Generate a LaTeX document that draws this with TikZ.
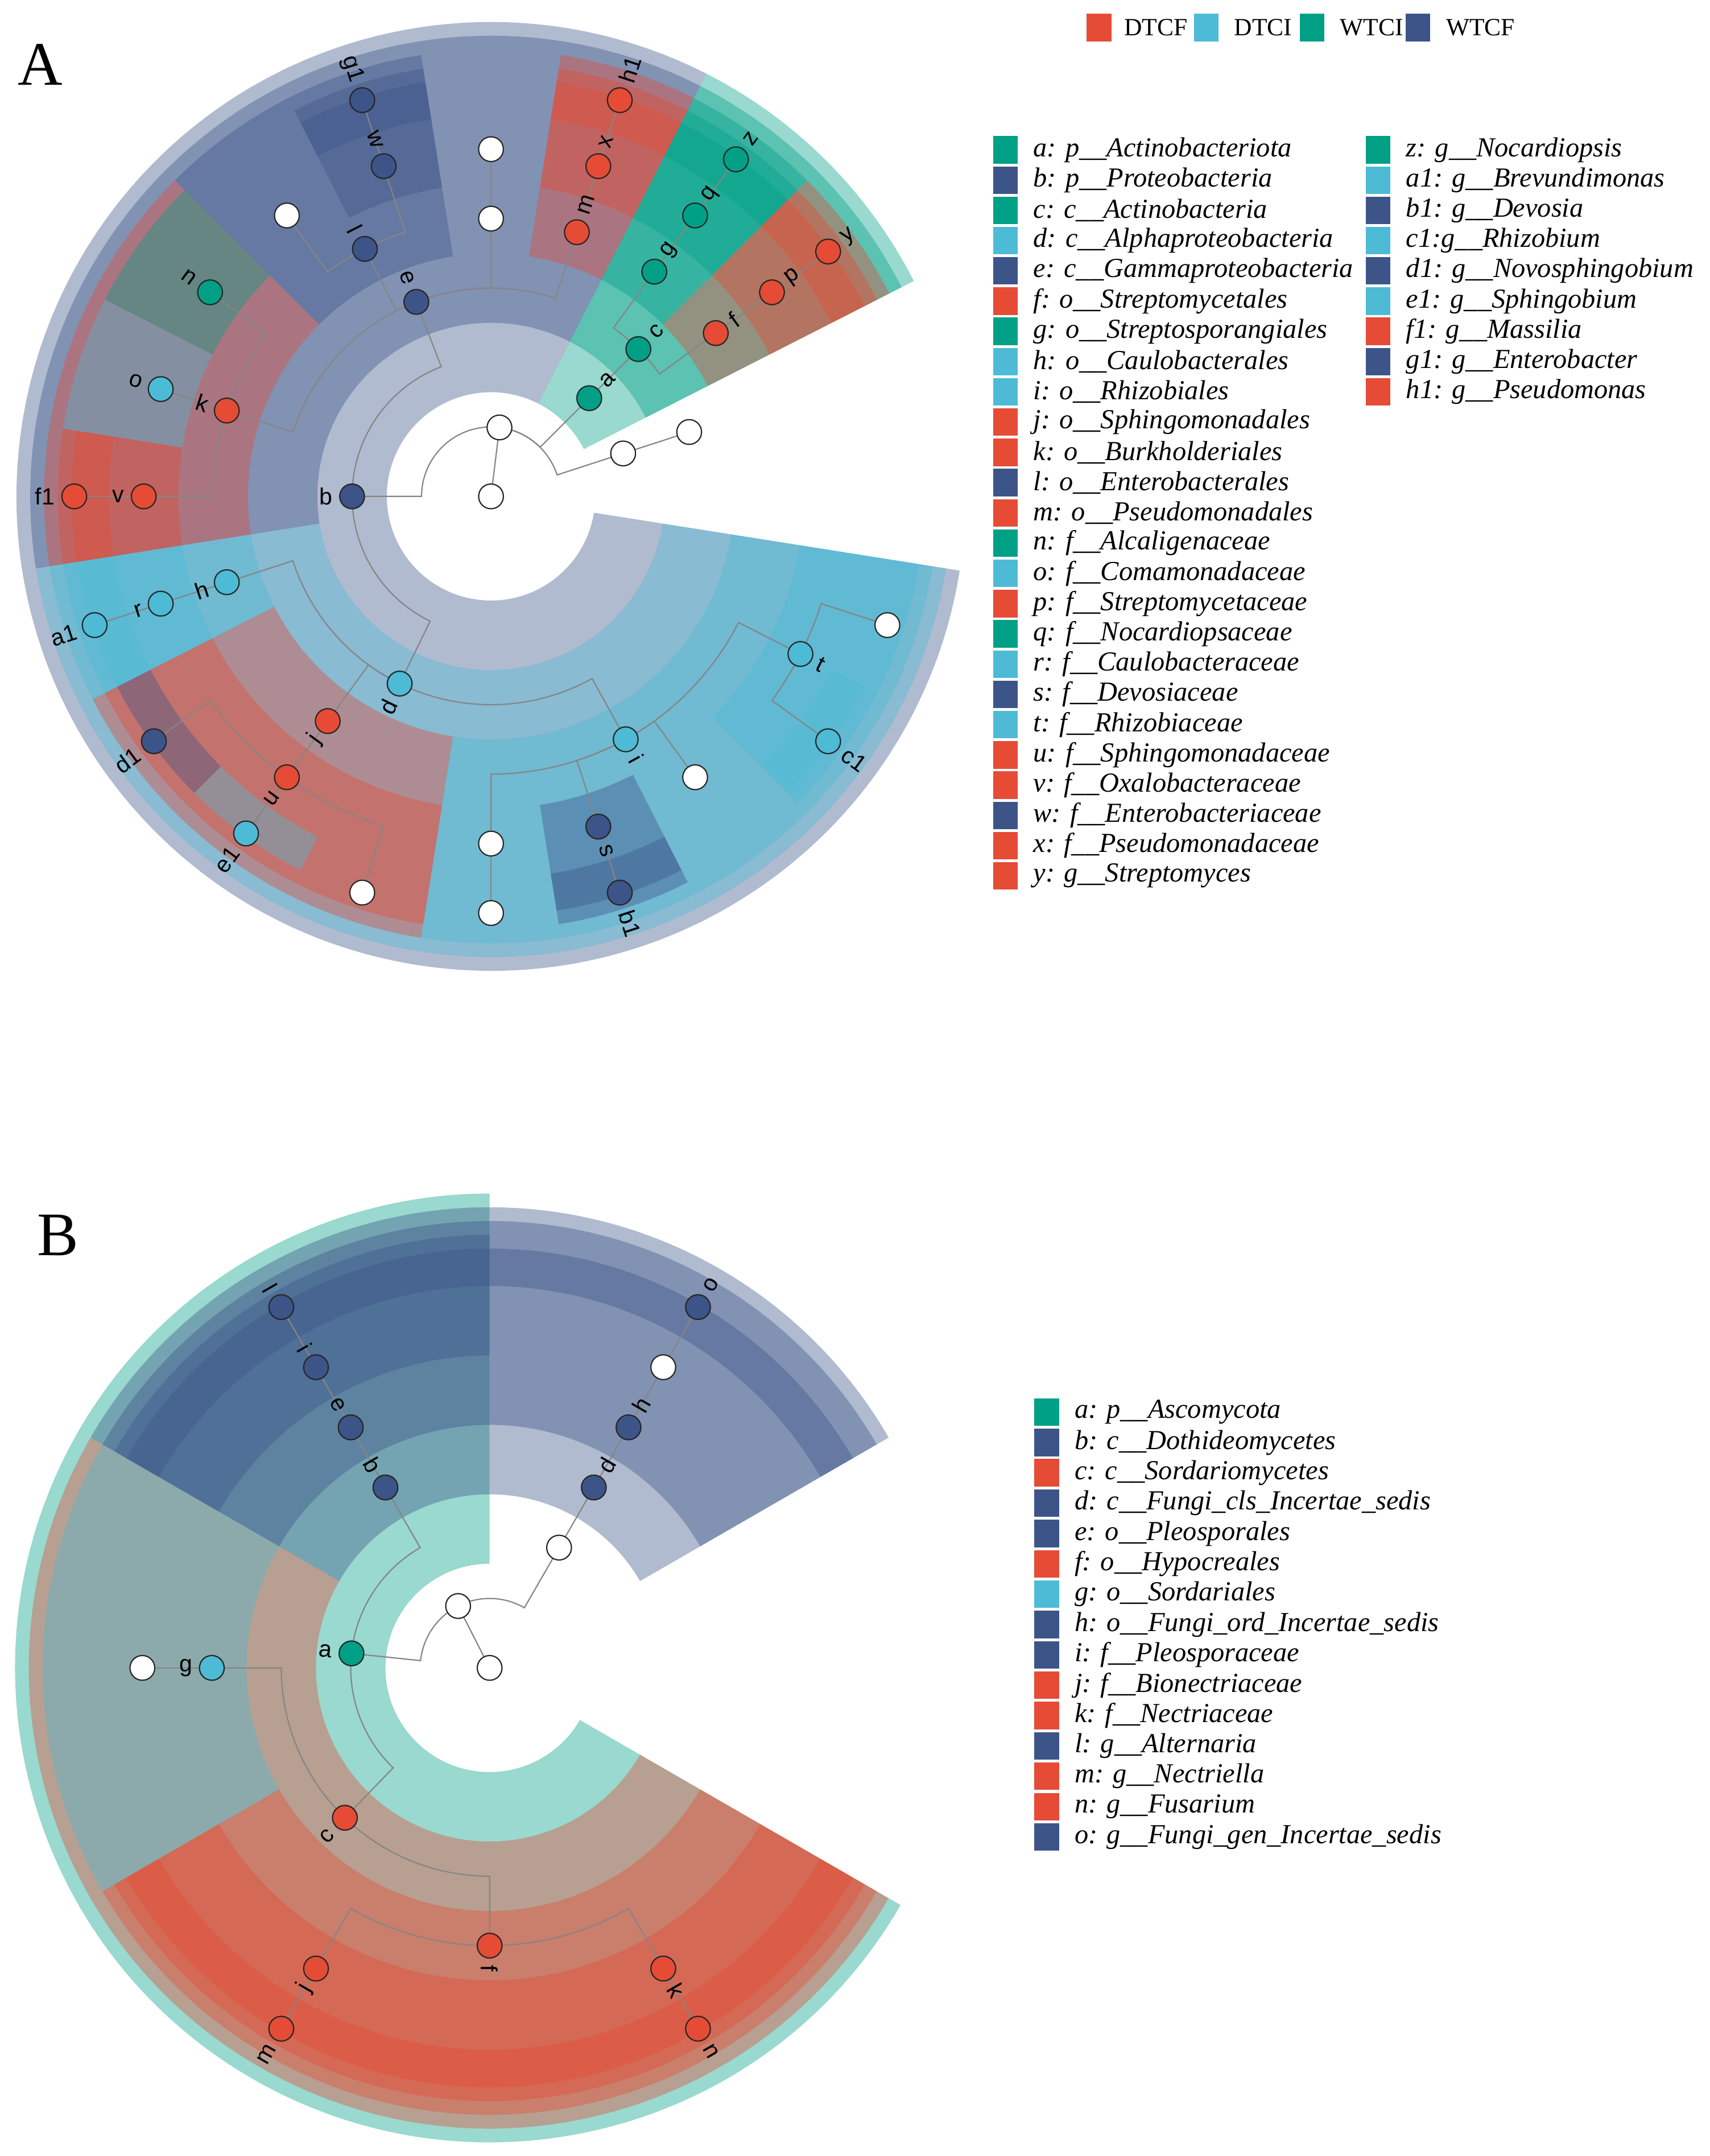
\documentclass[tikz,border=0pt]{standalone}
\usepackage{fontspec}
\setmainfont{Liberation Serif}
\newfontfamily\taxfont{Liberation Sans}
\usetikzlibrary{positioning}

\definecolor{dtcf}{HTML}{E64B35}
\definecolor{dtci}{HTML}{4DBBD5}
\definecolor{wtci}{HTML}{00A087}
\definecolor{wtcf}{HTML}{3C5488}
\definecolor{branchgray}{HTML}{858585}

\pgfdeclarelayer{shade}
\pgfdeclarelayer{tree}
\pgfsetlayers{shade,tree,main}

\tikzset{
	taxdot/.style={circle, draw=black!85, line width=0.9pt, minimum size=18pt, inner sep=0pt},
	branch/.style={draw=branchgray, line width=0.9pt},
	taxlabel/.style={font=\taxfont\fontsize{17}{17}\selectfont, inner sep=0pt},
	keybox/.style={minimum width=18pt, minimum height=20pt, inner sep=0pt},
	keytext/.style={font=\itshape\fontsize{20}{22}\selectfont, inner sep=0pt},
	grouptext/.style={font=\fontsize{18}{18}\selectfont, inner sep=0pt},
	paneltag/.style={font=\fontsize{45}{45}\selectfont, inner sep=0pt, anchor=base west}
}

% level radius: 50.5*(level+1), level 0 = kingdom
\newcommand{\taxon}[5]{%
	\pgfmathsetmacro{\taxr}{50.5*(#3+1)}%
	\node[taxdot, fill=#4] (#1) at (#2:\taxr) {};%
	\ifx\relax#5\relax\else
		\pgfmathsetmacro{\labr}{\taxr+14}%
		\pgfmathsetmacro{\labc}{cos(#2)}%
		\ifdim\labc pt<-0.01pt
			\pgfmathsetmacro{\labrot}{#2-180}%
			\node[taxlabel, anchor=east, rotate=\labrot] (#1-lbl) at (#2:\labr) {#5};%
		\else
			\node[taxlabel, anchor=west, rotate=#2] (#1-lbl) at (#2:\labr) {#5};%
		\fi
	\fi
}
\newcommand{\taxbranch}[5]{%
	\pgfmathsetmacro{\brr}{50.5*(#5+1)}%
	\draw[branch] (#1.center) arc[start angle=#3, end angle=#4, radius=\brr] -- (#2.center);%
}
\newcommand{\clade}[4]{%
	\pgfmathsetmacro{\cin}{50.5*#2+25.25}%
	\pgfmathsetmacro{\cout}{345-10*(#2-1)}%
	\fill[#1, fill opacity=0.4] (#3:\cin) arc[start angle=#3, end angle=#4, radius=\cin]
		-- (#4:\cout) arc[start angle=#4, end angle=#3, radius=\cout] -- cycle;%
}
\newcommand{\keyrow}[5]{%
	\node[keybox, fill=#2] (#1) at (#3,#4) {};%
	\node[keytext, right=11pt of #1] (#1-txt) {#5};%
}

\begin{document}
\begin{tikzpicture}[x=1pt, y=1pt]
	\useasboundingbox (0,0) rectangle (1243,-1568);

	% group key
	\node[keybox, fill=dtcf] (key-dtcf) at (799,-20) {};
	\node[grouptext, right=9pt of key-dtcf] (key-dtcf-txt) {DTCF};
	\node[keybox, fill=dtci] (key-dtci) at (877,-20) {};
	\node[grouptext, right=11pt of key-dtci] (key-dtci-txt) {DTCI};
	\node[keybox, fill=wtci] (key-wtci) at (954,-20) {};
	\node[grouptext, right=11pt of key-wtci] (key-wtci-txt) {WTCI};
	\node[keybox, fill=wtcf] (key-wtcf) at (1031,-20) {};
	\node[grouptext, right=11pt of key-wtcf] (key-wtcf-txt) {WTCF};

	% Panel A
	\node[paneltag] (tagA) at (13,-62) {A};
	\begin{scope}[shift={(357,-361)}]
		% clades
		\begin{pgfonlayer}{shade}
			\clade{wtci}{1}{27}{63}
			\clade{wtcf}{1}{63}{351}
			\clade{wtci}{2}{27}{63}
			\clade{dtci}{2}{189}{351}
			\clade{wtcf}{2}{63}{189}
			\clade{dtcf}{3}{27}{45}
			\clade{wtci}{3}{45}{63}
			\clade{dtci}{3}{189}{207}
			\clade{dtci}{3}{261}{351}
			\clade{dtcf}{3}{207}{261}
			\clade{dtcf}{3}{135}{189}
			\clade{wtcf}{3}{99}{135}
			\clade{dtcf}{3}{63}{81}
			\clade{wtci}{4}{135}{153}
			\clade{dtci}{4}{153}{171}
			\clade{dtcf}{4}{27}{45}
			\clade{wtci}{4}{45}{63}
			\clade{dtci}{4}{189}{207}
			\clade{wtcf}{4}{279}{297}
			\clade{dtci}{4}{315}{351}
			\clade{dtcf}{4}{207}{261}
			\clade{dtcf}{4}{171}{189}
			\clade{wtcf}{4}{99}{117}
			\clade{dtcf}{4}{63}{81}
			\clade{dtcf}{5}{27}{45}
			\clade{wtci}{5}{45}{63}
			\clade{dtci}{5}{189}{207}
			\clade{wtcf}{5}{279}{297}
			\clade{dtci}{5}{315}{333}
			\clade{wtcf}{5}{207}{225}
			\clade{dtci}{5}{225}{243}
			\clade{dtcf}{5}{171}{189}
			\clade{wtcf}{5}{99}{117}
			\clade{dtcf}{5}{63}{81}
		\end{pgfonlayer}

		% taxa
		\taxon{A-root}{0}{-1}{white}{}
		\taxon{A-king}{83}{0}{white}{}
		\taxon{A-w1}{18}{1}{white}{}
		\taxon{A-a}{45}{1}{wtci}{a}
		\taxon{A-b}{180}{1}{wtcf}{b}
		\taxon{A-w2}{18}{2}{white}{}
		\taxon{A-c}{45}{2}{wtci}{c}
		\taxon{A-d}{244}{2}{dtci}{d}
		\taxon{A-e}{111}{2}{wtcf}{e}
		\taxon{A-f}{36}{3}{dtcf}{f}
		\taxon{A-g}{54}{3}{wtci}{g}
		\taxon{A-h}{198}{3}{dtci}{h}
		\taxon{A-i}{299}{3}{dtci}{i}
		\taxon{A-j}{234}{3}{dtcf}{j}
		\taxon{A-k}{162}{3}{dtcf}{k}
		\taxon{A-l}{117}{3}{wtcf}{l}
		\taxon{A-m}{72}{3}{dtcf}{m}
		\taxon{A-w3}{90}{3}{white}{}
		\taxon{A-n}{144}{4}{wtci}{n}
		\taxon{A-o}{162}{4}{dtci}{o}
		\taxon{A-p}{36}{4}{dtcf}{p}
		\taxon{A-q}{54}{4}{wtci}{q}
		\taxon{A-r}{198}{4}{dtci}{r}
		\taxon{A-s}{288}{4}{wtcf}{s}
		\taxon{A-t}{333}{4}{dtci}{t}
		\taxon{A-u}{234}{4}{dtcf}{u}
		\taxon{A-v}{180}{4}{dtcf}{v}
		\taxon{A-w}{108}{4}{wtcf}{w}
		\taxon{A-x}{72}{4}{dtcf}{x}
		\taxon{A-w4}{90}{4}{white}{}
		\taxon{A-w5}{126}{4}{white}{}
		\taxon{A-w7}{270}{4}{white}{}
		\taxon{A-w9}{306}{4}{white}{}
		\taxon{A-y}{36}{5}{dtcf}{y}
		\taxon{A-z}{54}{5}{wtci}{z}
		\taxon{A-a1}{198}{5}{dtci}{a1}
		\taxon{A-b1}{288}{5}{wtcf}{b1}
		\taxon{A-c1}{324}{5}{dtci}{c1}
		\taxon{A-d1}{216}{5}{wtcf}{d1}
		\taxon{A-e1}{234}{5}{dtci}{e1}
		\taxon{A-f1}{180}{5}{dtcf}{f1}
		\taxon{A-g1}{108}{5}{wtcf}{g1}
		\taxon{A-h1}{72}{5}{dtcf}{h1}
		\taxon{A-w6}{252}{5}{white}{}
		\taxon{A-w8}{270}{5}{white}{}
		\taxon{A-w10}{342}{5}{white}{}

		% branches
		\begin{pgfonlayer}{tree}
			\draw[branch] (A-root.center) -- (A-king.center);
			\taxbranch{A-king}{A-w1}{83}{18}{0}
			\taxbranch{A-king}{A-a}{83}{45}{0}
			\taxbranch{A-king}{A-b}{83}{180}{0}
			\taxbranch{A-w1}{A-w2}{18}{18}{1}
			\taxbranch{A-a}{A-c}{45}{45}{1}
			\taxbranch{A-c}{A-f}{45}{36}{2}
			\taxbranch{A-c}{A-g}{45}{54}{2}
			\taxbranch{A-f}{A-p}{36}{36}{3}
			\taxbranch{A-p}{A-y}{36}{36}{4}
			\taxbranch{A-g}{A-q}{54}{54}{3}
			\taxbranch{A-q}{A-z}{54}{54}{4}
			\taxbranch{A-b}{A-e}{180}{111}{1}
			\taxbranch{A-b}{A-d}{180}{244}{1}
			\taxbranch{A-e}{A-m}{111}{72}{2}
			\taxbranch{A-e}{A-w3}{111}{90}{2}
			\taxbranch{A-e}{A-l}{111}{117}{2}
			\taxbranch{A-e}{A-k}{111}{162}{2}
			\taxbranch{A-m}{A-x}{72}{72}{3}
			\taxbranch{A-x}{A-h1}{72}{72}{4}
			\taxbranch{A-w3}{A-w4}{90}{90}{3}
			\taxbranch{A-l}{A-w}{117}{108}{3}
			\taxbranch{A-l}{A-w5}{117}{126}{3}
			\taxbranch{A-w}{A-g1}{108}{108}{4}
			\taxbranch{A-k}{A-n}{162}{144}{3}
			\taxbranch{A-k}{A-o}{162}{162}{3}
			\taxbranch{A-k}{A-v}{162}{180}{3}
			\taxbranch{A-v}{A-f1}{180}{180}{4}
			\taxbranch{A-d}{A-h}{244}{198}{2}
			\taxbranch{A-d}{A-j}{244}{234}{2}
			\taxbranch{A-d}{A-i}{244}{299}{2}
			\taxbranch{A-h}{A-r}{198}{198}{3}
			\taxbranch{A-r}{A-a1}{198}{198}{4}
			\taxbranch{A-j}{A-u}{234}{234}{3}
			\taxbranch{A-u}{A-d1}{234}{216}{4}
			\taxbranch{A-u}{A-e1}{234}{234}{4}
			\taxbranch{A-u}{A-w6}{234}{252}{4}
			\taxbranch{A-i}{A-w7}{299}{270}{3}
			\taxbranch{A-i}{A-s}{299}{288}{3}
			\taxbranch{A-i}{A-w9}{299}{306}{3}
			\taxbranch{A-i}{A-t}{299}{333}{3}
			\taxbranch{A-w7}{A-w8}{270}{270}{4}
			\taxbranch{A-s}{A-b1}{288}{288}{4}
			\taxbranch{A-t}{A-c1}{333}{324}{4}
			\taxbranch{A-t}{A-w10}{333}{342}{4}
		\end{pgfonlayer}
	\end{scope}

	% key A
	\keyrow{keyA-a}{wtci}{731}{-109}{a: p\_\_Actinobacteriota}
	\keyrow{keyA-b}{wtcf}{731}{-131}{b: p\_\_Proteobacteria}
	\keyrow{keyA-c}{wtci}{731}{-153}{c: c\_\_Actinobacteria}
	\keyrow{keyA-d}{dtci}{731}{-175}{d: c\_\_Alphaproteobacteria}
	\keyrow{keyA-e}{wtcf}{731}{-197}{e: c\_\_Gammaproteobacteria}
	\keyrow{keyA-f}{dtcf}{731}{-219}{f: o\_\_Streptomycetales}
	\keyrow{keyA-g}{wtci}{731}{-241}{g: o\_\_Streptosporangiales}
	\keyrow{keyA-h}{dtci}{731}{-263}{h: o\_\_Caulobacterales}
	\keyrow{keyA-i}{dtci}{731}{-285}{i: o\_\_Rhizobiales}
	\keyrow{keyA-j}{dtcf}{731}{-307}{j: o\_\_Sphingomonadales}
	\keyrow{keyA-k}{dtcf}{731}{-329}{k: o\_\_Burkholderiales}
	\keyrow{keyA-l}{wtcf}{731}{-351}{l: o\_\_Enterobacterales}
	\keyrow{keyA-m}{dtcf}{731}{-373}{m: o\_\_Pseudomonadales}
	\keyrow{keyA-n}{wtci}{731}{-395}{n: f\_\_Alcaligenaceae}
	\keyrow{keyA-o}{dtci}{731}{-417}{o: f\_\_Comamonadaceae}
	\keyrow{keyA-p}{dtcf}{731}{-439}{p: f\_\_Streptomycetaceae}
	\keyrow{keyA-q}{wtci}{731}{-461}{q: f\_\_Nocardiopsaceae}
	\keyrow{keyA-r}{dtci}{731}{-483}{r: f\_\_Caulobacteraceae}
	\keyrow{keyA-s}{wtcf}{731}{-505}{s: f\_\_Devosiaceae}
	\keyrow{keyA-t}{dtci}{731}{-527}{t: f\_\_Rhizobiaceae}
	\keyrow{keyA-u}{dtcf}{731}{-549}{u: f\_\_Sphingomonadaceae}
	\keyrow{keyA-v}{dtcf}{731}{-571}{v: f\_\_Oxalobacteraceae}
	\keyrow{keyA-w}{wtcf}{731}{-593}{w: f\_\_Enterobacteriaceae}
	\keyrow{keyA-x}{dtcf}{731}{-615}{x: f\_\_Pseudomonadaceae}
	\keyrow{keyA-y}{dtcf}{731}{-637}{y: g\_\_Streptomyces}
	\keyrow{keyA-z}{wtci}{1002}{-109}{z: g\_\_Nocardiopsis}
	\keyrow{keyA-a1}{dtci}{1002}{-131}{a1: g\_\_Brevundimonas}
	\keyrow{keyA-b1}{wtcf}{1002}{-153}{b1: g\_\_Devosia}
	\keyrow{keyA-c1}{dtci}{1002}{-175}{c1:g\_\_Rhizobium}
	\keyrow{keyA-d1}{wtcf}{1002}{-197}{d1: g\_\_Novosphingobium}
	\keyrow{keyA-e1}{dtci}{1002}{-219}{e1: g\_\_Sphingobium}
	\keyrow{keyA-f1}{dtcf}{1002}{-241}{f1: g\_\_Massilia}
	\keyrow{keyA-g1}{wtcf}{1002}{-263}{g1: g\_\_Enterobacter}
	\keyrow{keyA-h1}{dtcf}{1002}{-285}{h1: g\_\_Pseudomonas}

	% Panel B
	\node[paneltag] (tagB) at (27,-913) {B};
	\begin{scope}[shift={(356,-1213)}]
		% clades
		\begin{pgfonlayer}{shade}
			\clade{wtci}{1}{90}{330}
			\clade{wtcf}{2}{90}{150}
			\clade{dtcf}{2}{150}{330}
			\clade{wtcf}{2}{30}{90}
			\clade{wtcf}{3}{90}{150}
			\clade{dtci}{3}{150}{210}
			\clade{dtcf}{3}{210}{330}
			\clade{wtcf}{3}{30}{90}
			\clade{wtcf}{4}{90}{150}
			\clade{dtcf}{4}{210}{270}
			\clade{dtcf}{4}{270}{330}
			\clade{wtcf}{5}{90}{150}
			\clade{dtcf}{5}{210}{270}
			\clade{dtcf}{5}{270}{330}
			\clade{wtcf}{5}{30}{90}
		\end{pgfonlayer}

		% taxa
		\taxon{B-root}{0}{-1}{white}{}
		\taxon{B-king}{117}{0}{white}{}
		\taxon{B-w1}{60}{1}{white}{}
		\taxon{B-a}{174}{1}{wtci}{a}
		\taxon{B-b}{120}{2}{wtcf}{b}
		\taxon{B-c}{226}{2}{dtcf}{c}
		\taxon{B-d}{60}{2}{wtcf}{d}
		\taxon{B-e}{120}{3}{wtcf}{e}
		\taxon{B-f}{270}{3}{dtcf}{f}
		\taxon{B-g}{180}{3}{dtci}{g}
		\taxon{B-h}{60}{3}{wtcf}{h}
		\taxon{B-i}{120}{4}{wtcf}{i}
		\taxon{B-j}{240}{4}{dtcf}{j}
		\taxon{B-k}{300}{4}{dtcf}{k}
		\taxon{B-w2}{60}{4}{white}{}
		\taxon{B-w3}{180}{4}{white}{}
		\taxon{B-l}{120}{5}{wtcf}{l}
		\taxon{B-m}{240}{5}{dtcf}{m}
		\taxon{B-n}{300}{5}{dtcf}{n}
		\taxon{B-o}{60}{5}{wtcf}{o}

		% branches
		\begin{pgfonlayer}{tree}
			\draw[branch] (B-root.center) -- (B-king.center);
			\taxbranch{B-king}{B-w1}{117}{60}{0}
			\taxbranch{B-king}{B-a}{117}{174}{0}
			\taxbranch{B-a}{B-b}{174}{120}{1}
			\taxbranch{B-a}{B-c}{174}{226}{1}
			\taxbranch{B-w1}{B-d}{60}{60}{1}
			\taxbranch{B-b}{B-e}{120}{120}{2}
			\taxbranch{B-e}{B-i}{120}{120}{3}
			\taxbranch{B-i}{B-l}{120}{120}{4}
			\taxbranch{B-d}{B-h}{60}{60}{2}
			\taxbranch{B-h}{B-w2}{60}{60}{3}
			\taxbranch{B-w2}{B-o}{60}{60}{4}
			\taxbranch{B-c}{B-g}{226}{180}{2}
			\taxbranch{B-g}{B-w3}{180}{180}{3}
			\taxbranch{B-c}{B-f}{226}{270}{2}
			\taxbranch{B-f}{B-j}{270}{240}{3}
			\taxbranch{B-j}{B-m}{240}{240}{4}
			\taxbranch{B-f}{B-k}{270}{300}{3}
			\taxbranch{B-k}{B-n}{300}{300}{4}
		\end{pgfonlayer}
	\end{scope}

	% key B
	\keyrow{keyB-a}{wtci}{761}{-1027}{a: p\_\_Ascomycota}
	\keyrow{keyB-b}{wtcf}{761}{-1049.1}{b: c\_\_Dothideomycetes}
	\keyrow{keyB-c}{dtcf}{761}{-1071.1}{c: c\_\_Sordariomycetes}
	\keyrow{keyB-d}{wtcf}{761}{-1093.2}{d: c\_\_Fungi\_cls\_Incertae\_sedis}
	\keyrow{keyB-e}{wtcf}{761}{-1115.3}{e: o\_\_Pleosporales}
	\keyrow{keyB-f}{dtcf}{761}{-1137.4}{f: o\_\_Hypocreales}
	\keyrow{keyB-g}{dtci}{761}{-1159.4}{g: o\_\_Sordariales}
	\keyrow{keyB-h}{wtcf}{761}{-1181.5}{h: o\_\_Fungi\_ord\_Incertae\_sedis}
	\keyrow{keyB-i}{wtcf}{761}{-1203.6}{i: f\_\_Pleosporaceae}
	\keyrow{keyB-j}{dtcf}{761}{-1225.6}{j: f\_\_Bionectriaceae}
	\keyrow{keyB-k}{dtcf}{761}{-1247.7}{k: f\_\_Nectriaceae}
	\keyrow{keyB-l}{wtcf}{761}{-1269.8}{l: g\_\_Alternaria}
	\keyrow{keyB-m}{dtcf}{761}{-1291.8}{m: g\_\_Nectriella}
	\keyrow{keyB-n}{dtcf}{761}{-1313.9}{n: g\_\_Fusarium}
	\keyrow{keyB-o}{wtcf}{761}{-1336}{o: g\_\_Fungi\_gen\_Incertae\_sedis}
\end{tikzpicture}
\end{document}
